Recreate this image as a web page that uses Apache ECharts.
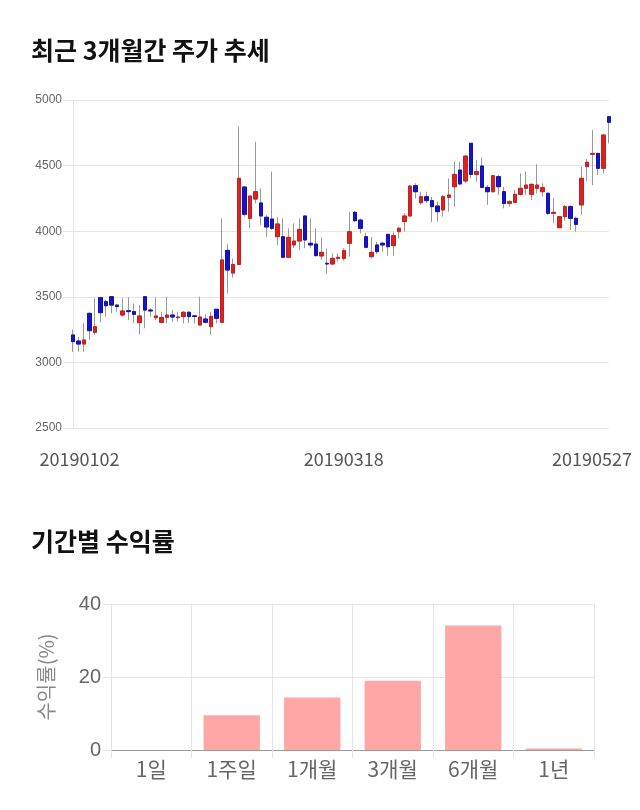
<!DOCTYPE html>
<html><head><meta charset="utf-8">
<script src="https://cdn.jsdelivr.net/npm/echarts@6/dist/echarts.min.js"></script>
<style>html,body{margin:0;padding:0;background:#fff}#c{width:640px;height:810px}</style>
</head><body><div id="c"></div>
<script>
const dates = ["20190102","20190103","20190104","20190107","20190108","20190109","20190110","20190111","20190114","20190115","20190116","20190117","20190118","20190121","20190122","20190123","20190124","20190125","20190128","20190129","20190130","20190131",
"20190201","20190207","20190208","20190211","20190212","20190213","20190214","20190215","20190218","20190219","20190220","20190221","20190222","20190225","20190226","20190227","20190228",
"20190304","20190305","20190306","20190307","20190308","20190311","20190312","20190313","20190314","20190315","20190318","20190319","20190320","20190321","20190322","20190325","20190326","20190327","20190328","20190329",
"20190401","20190402","20190403","20190404","20190405","20190408","20190409","20190410","20190411","20190412","20190415","20190416","20190417","20190418","20190419","20190422","20190423","20190424","20190425","20190426","20190429","20190430",
"20190502","20190503","20190507","20190508","20190509","20190510","20190513","20190514","20190515","20190516","20190517","20190520","20190521","20190522","20190523","20190524","20190527"];
const openP  = [3209,3163,3140,3374,3229,3493,3463,3501,3437,3361,3394,3387,3303,3501,3399,3341,3305,3343,3361,3341,3349,3382,3355,3285,3331,3272,3405,3306,3854,3681,3747,4337,4098,4245,4215,4106,4093,3958,3958,3801,3895,3925,4116,3908,3902,3811,3755,3750,3793,3793,3908,4144,4085,3958,3806,3895,3908,3976,3890,3996,4073,4116,4347,4217,4263,4233,4192,4162,4258,4339,4466,4383,4670,4433,4497,4334,4301,4416,4301,4212,4220,4281,4327,4281,4327,4301,4289,4136,4027,4111,4187,4098,4200,4492,4586,4593,4479,4873];
const closeP = [3158,3140,3171,3242,3272,3379,3432,3437,3425,3392,3387,3366,3354,3399,3392,3354,3343,3361,3346,3346,3382,3349,3350,3346,3306,3351,3336,3781,3704,3747,4403,4129,4268,4301,4116,4032,4022,4055,3801,3953,3925,4014,3933,3895,3814,3839,3750,3793,3801,3852,3996,4080,4022,3877,3839,3844,3895,3882,3966,4022,4116,4344,4301,4263,4233,4187,4149,4263,4276,4433,4360,4573,4433,4454,4334,4301,4423,4339,4212,4225,4281,4327,4352,4357,4352,4332,4136,4144,4111,4187,4098,4052,4403,4525,4593,4479,4733,4830];
const lowP   = [3080,3082,3082,3171,3209,3305,3349,3374,3387,3349,3323,3298,3214,3260,3349,3323,3298,3298,3310,3310,3298,3298,3298,3280,3298,3209,3298,3298,3526,3646,3747,4111,4022,4212,4047,3958,4009,3895,3793,3801,3870,3857,3870,3870,3806,3781,3674,3742,3770,3776,3806,4073,3984,3870,3793,3824,3844,3814,3814,3946,3996,4111,4250,4200,4212,4068,4073,4111,4149,4187,4352,4365,4403,4377,4327,4200,4296,4276,4174,4187,4212,4271,4276,4238,4289,4263,4123,4060,4022,4078,4009,3996,4124,4383,4352,4428,4441,4670];
const highP  = [3250,3196,3298,3380,3488,3500,3476,3505,3443,3488,3496,3450,3437,3505,3412,3496,3387,3496,3399,3387,3392,3392,3362,3501,3366,3387,3405,4098,3900,3793,4797,4337,4268,4682,4327,4124,4454,4106,4098,4022,4060,4098,4116,4098,4022,3951,3870,3831,3831,3870,4149,4154,4098,3989,3958,3920,3920,3976,3996,4035,4136,4352,4365,4301,4301,4263,4225,4276,4403,4530,4530,4573,4670,4543,4560,4352,4428,4428,4339,4238,4314,4441,4454,4365,4510,4365,4296,4251,4111,4200,4200,4111,4492,4550,4771,4593,4738,4873];
const priceTicks = [2500,3000,3500,4000,4500,5000];
const periods = ["1일","1주일","1개월","3개월","6개월","1년"];
const returns = [0, 9.5, 14.4, 19.0, 34.1, 0.4];

const kFull = dates.map((d,i)=>[openP[i],closeP[i],lowP[i],highP[i]]);
const kBody = dates.map((d,i)=>[openP[i],closeP[i],Math.min(openP[i],closeP[i]),Math.max(openP[i],closeP[i])]);
const shownIdx = [0, 49, dates.length-1];

const chart = echarts.init(document.getElementById('c'), null, {renderer:'canvas'});
const CJK = '"Noto Sans CJK KR", "Noto Sans", sans-serif';
chart.setOption({
  animation:false,
  backgroundColor:'#fff',
  title:[
    {text:'최근 3개월간 주가 추세', left:26, top:33, textStyle:{fontFamily:CJK, fontSize:25, fontWeight:'bold', color:'#111'}},
    {text:'기간별 수익률', left:26, top:524, textStyle:{fontFamily:CJK, fontSize:25, fontWeight:'bold', color:'#111'}}
  ],
  grid:[
    {left:73, top:100, width:536, height:328},
    {left:111, top:604, width:483, height:146}
  ],
  xAxis:[
    {type:'category', gridIndex:0, data:dates, boundaryGap:false,
     axisLine:{show:false}, axisTick:{show:false}, splitLine:{show:false},
     axisLabel:{interval:(idx)=>shownIdx.indexOf(idx)>=0, margin:22, color:'#555', fontFamily:CJK, fontSize:18,
       formatter:(v,idx)=> idx===0 ? '{f|'+v+'}' : (idx===dates.length-1 ? '{l|'+v+'}' : '{m|'+v+'}'),
       rich:{f:{padding:[0,0,0,13], fontFamily:CJK, fontSize:18, color:'#555'},
             m:{fontFamily:CJK, fontSize:18, color:'#555'},
             l:{padding:[0,34,0,0], fontFamily:CJK, fontSize:18, color:'#555'}}}},
    {type:'category', gridIndex:1, data:periods, boundaryGap:true,
     axisLine:{show:true, lineStyle:{color:'#999'}},
     axisTick:{show:true, length:8, lineStyle:{color:'#e3e3e3'}},
     splitLine:{show:true, lineStyle:{color:'#e6e6e6'}},
     axisLabel:{color:'#666', fontFamily:CJK, fontSize:21, margin:9}}
  ],
  yAxis:[
    {type:'value', gridIndex:0, min:2500, max:5000, interval:500,
     axisLine:{show:true, lineStyle:{color:'#e6e6e6'}},
     axisTick:{show:true, length:10, lineStyle:{color:'#e6e6e6'}},
     splitLine:{show:true, lineStyle:{color:'#e6e6e6'}},
     axisLabel:{color:'#666', fontFamily:'"Liberation Sans", Arial, sans-serif', fontSize:12, margin:11,
       formatter:(v)=> priceTicks.indexOf(v)>=0 ? String(v) : ''}},
    {type:'value', gridIndex:1, min:0, max:40, interval:20,
     name:'수익률(%)', nameLocation:'middle', nameGap:55, nameRotate:90,
     nameTextStyle:{color:'#888', fontFamily:CJK, fontSize:20},
     axisLine:{show:true, lineStyle:{color:'#e3e3e3'}},
     axisTick:{show:true, length:8, lineStyle:{color:'#e3e3e3'}},
     splitLine:{show:true, lineStyle:{color:'#e6e6e6'}},
     axisLabel:{color:'#666', fontFamily:'"Liberation Sans", Arial, sans-serif', fontSize:20, margin:10}}
  ],
  series:[
    {type:'candlestick', xAxisIndex:0, yAxisIndex:0, data:kFull, barWidth:4,
     itemStyle:{color:'#999', color0:'#999', borderColor:'#999', borderColor0:'#999', borderWidth:1}},
    {type:'candlestick', xAxisIndex:0, yAxisIndex:0, data:kBody, barWidth:4,
     itemStyle:{color:'#D9231F', color0:'#1414C8', borderColor:'#C81E1E', borderColor0:'#1010B4', borderWidth:1}},
    {type:'bar', xAxisIndex:1, yAxisIndex:1, data:returns, barWidth:'70%',
     itemStyle:{color:'#FFA7A7', borderColor:'#F29C9C', borderWidth:0}}
  ]
});
</script></body></html>
